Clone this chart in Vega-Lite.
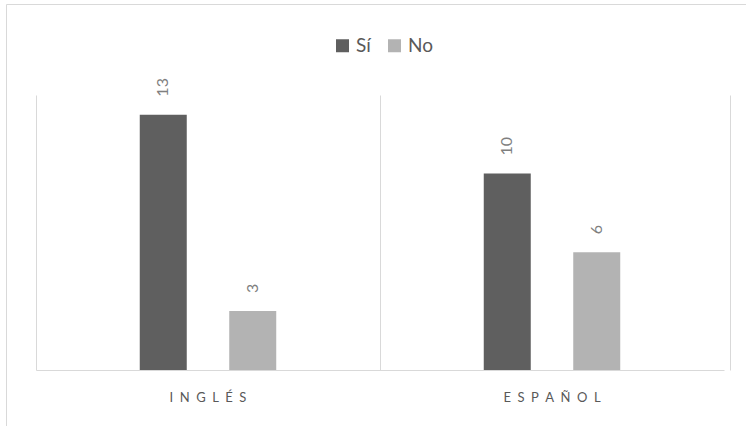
{
  "$schema": "https://vega.github.io/schema/vega-lite/v6.json",
  "autosize": "none",
  "padding": {"left": 6, "top": 4, "right": 0, "bottom": 0},
  "width": 742,
  "height": 422,
  "background": "white",
  "config": {
    "font": "Lato",
    "view": {"stroke": "#d9d9d9", "strokeWidth": 1}
  },
  "data": {
    "values": [
      {"idioma": "INGLÉS", "respuesta": "Sí", "n": 13},
      {"idioma": "INGLÉS", "respuesta": "No", "n": 3},
      {"idioma": "ESPAÑOL", "respuesta": "Sí", "n": 10},
      {"idioma": "ESPAÑOL", "respuesta": "No", "n": 6}
    ]
  },
  "encoding": {
    "x": {
      "field": "idioma",
      "type": "nominal",
      "sort": ["INGLÉS", "ESPAÑOL"],
      "scale": {"range": [30, 718], "paddingInner": 0, "paddingOuter": 0},
      "axis": {
        "title": null,
        "offset": -56,
        "ticks": false,
        "grid": false,
        "domainColor": "#d9d9d9",
        "domainWidth": 1,
        "labelAngle": 0,
        "labelFontSize": 13,
        "labelColor": "#595959",
        "labelPadding": 21,
        "labelExpr": "join(split(datum.label, ''), '\u2002')"
      }
    },
    "xOffset": {
      "field": "respuesta",
      "type": "nominal",
      "sort": ["Sí", "No"],
      "scale": {"paddingInner": 0.156, "paddingOuter": 1}
    },
    "color": {
      "field": "respuesta",
      "type": "nominal",
      "sort": ["Sí", "No"],
      "scale": {"domain": ["Sí", "No"], "range": ["#5f5f5f", "#b3b3b3"]},
      "legend": {
        "title": null,
        "orient": "none",
        "direction": "horizontal",
        "legendX": 327,
        "legendY": 32,
        "symbolType": "square",
        "symbolSize": 169,
        "symbolStrokeWidth": 0,
        "labelFontSize": 19,
        "labelColor": "#595959",
        "labelOffset": 4,
        "columnPadding": 14
      }
    }
  },
  "resolve": {"axis": {"y": "independent"}},
  "layer": [
    {
      "transform": [{"filter": "datum.respuesta === 'Sí'"}],
      "mark": {"type": "bar", "width": 47},
      "encoding": {
        "y": {
          "field": "n",
          "type": "quantitative",
          "scale": {"domain": [0, 14], "range": [366, 91], "nice": false},
          "axis": {
            "orient": "left",
            "offset": -30,
            "title": null,
            "labels": false,
            "ticks": false,
            "grid": false,
            "domain": true,
            "domainColor": "#d9d9d9",
            "domainWidth": 1
          }
        }
      }
    },
    {
      "transform": [{"filter": "datum.respuesta === 'No'"}],
      "mark": {"type": "bar", "width": 47},
      "encoding": {
        "y": {
          "field": "n",
          "type": "quantitative",
          "axis": {
            "orient": "left",
            "offset": -374,
            "title": null,
            "labels": false,
            "ticks": false,
            "grid": false,
            "domain": true,
            "domainColor": "#d9d9d9",
            "domainWidth": 1
          }
        }
      }
    },
    {
      "mark": {
        "type": "text",
        "angle": 270,
        "align": "left",
        "baseline": "middle",
        "dx": 18,
        "fontSize": 16
      },
      "encoding": {
        "y": {
          "field": "n",
          "type": "quantitative",
          "axis": {
            "orient": "right",
            "offset": -18,
            "title": null,
            "labels": false,
            "ticks": false,
            "grid": false,
            "domain": true,
            "domainColor": "#d9d9d9",
            "domainWidth": 1
          }
        },
        "text": {"field": "n", "type": "quantitative"},
        "color": {"value": "#7f7f7f"}
      }
    }
  ]
}
